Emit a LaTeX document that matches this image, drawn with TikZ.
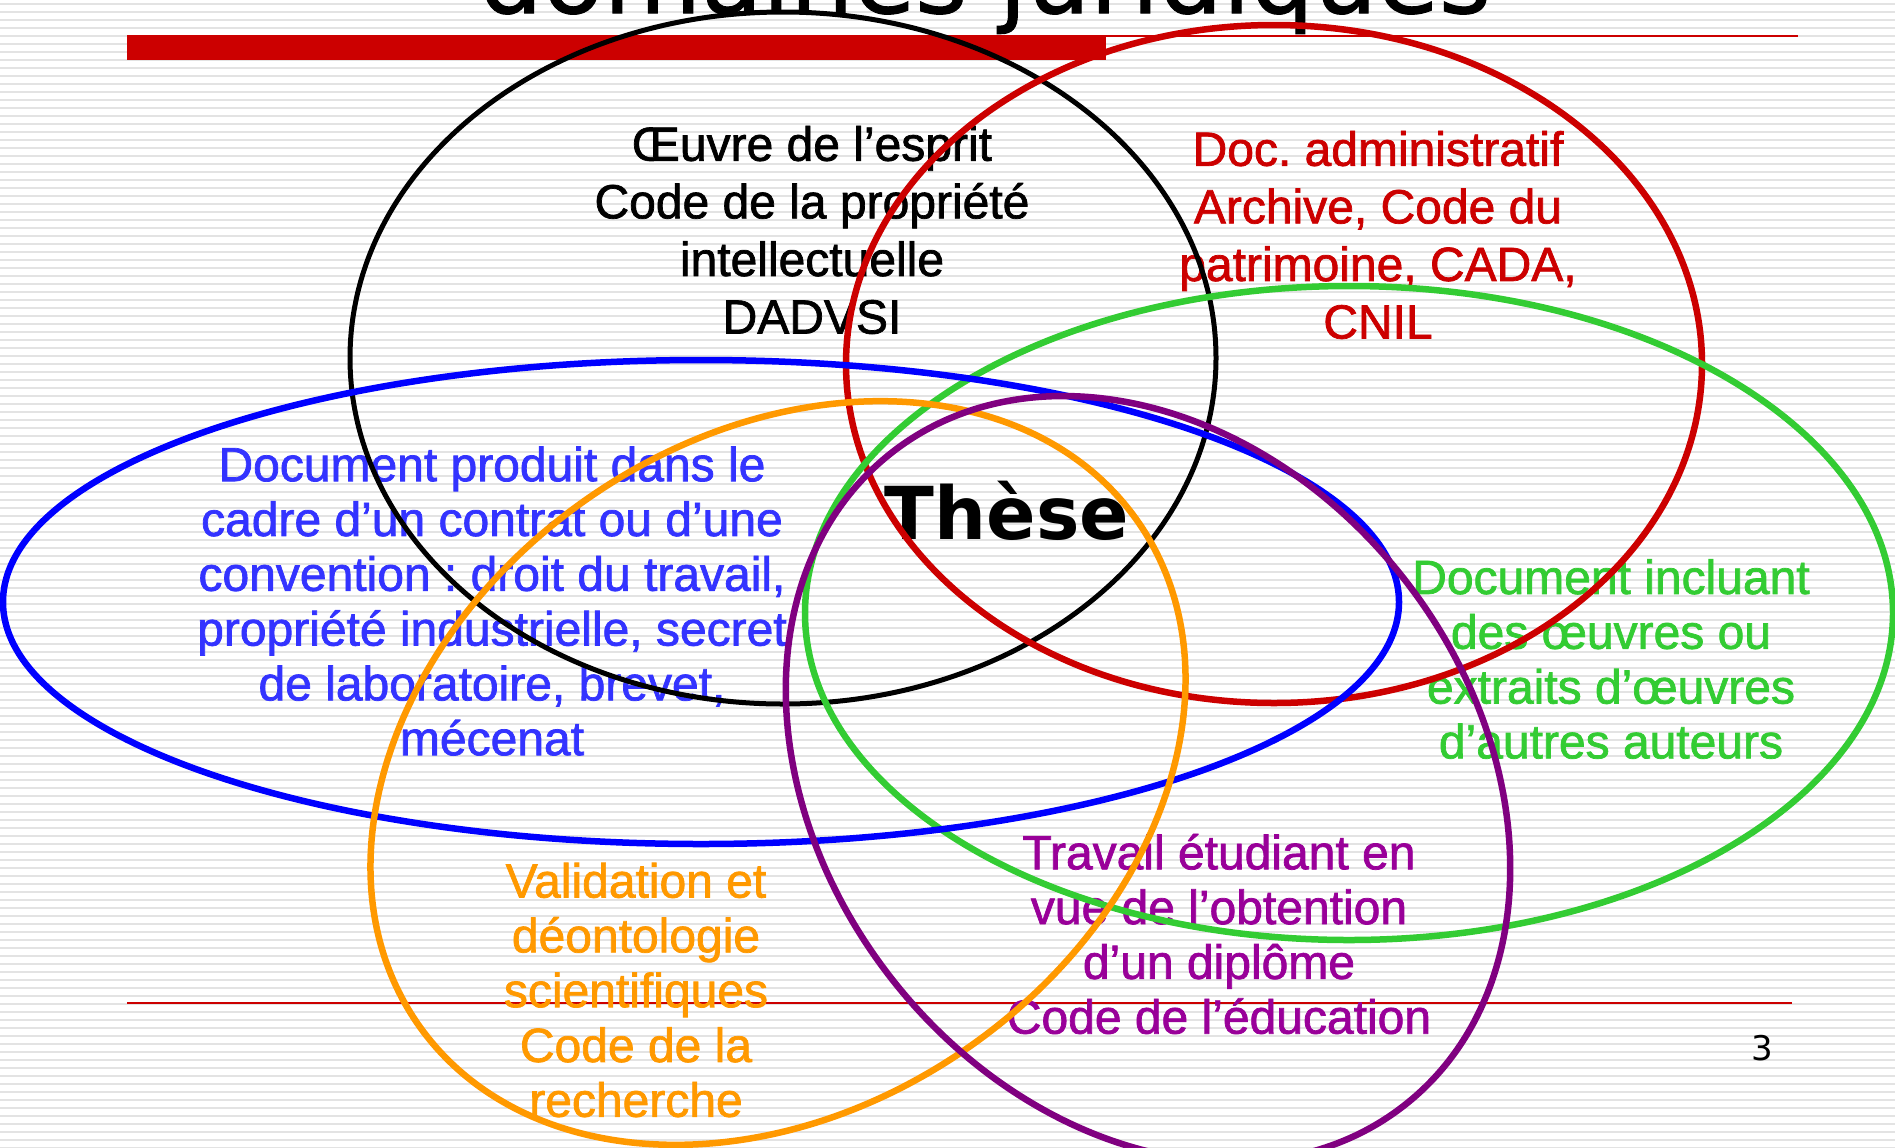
\documentclass[tikz,border=0pt]{standalone}
\usepackage{fontspec}
\setmainfont{Liberation Sans}
\newfontfamily\slidefont{Liberation Sans}[FakeBold=1.5]
\newfontfamily\verdfont{DejaVu Sans}
\newfontfamily\headfont{DejaVu Sans}[FakeBold=1]
\frenchspacing

\definecolor{barred}{HTML}{CC0000}
\definecolor{grnline}{HTML}{33CC33}
\definecolor{bluetext}{HTML}{3333FF}
\definecolor{orng}{HTML}{FF9900}
\definecolor{purpline}{HTML}{800080}
\definecolor{purptext}{HTML}{990099}

\begin{document}
\begin{tikzpicture}[x=0.5pt, y=-0.5pt,
    stripe/.style={draw=black!11, line width=1.25pt},
    ring/.style={line width=3.25pt},
    zone/.style={align=center, inner sep=0pt, font=\slidefont\fontsize{24}{27.4}\selectfont},
    widezone/.style={zone, font=\slidefont\fontsize{24}{28.8}\selectfont}]

\useasboundingbox (0,0) rectangle (1895,1147);
\clip (0,0) rectangle (1895,1147);
\fill[white] (0,0) rectangle (1895,1147);
\foreach \k in {0,...,143}
    \draw[stripe] (0,4+8*\k) -- (1895,4+8*\k);

% slide frame
\node[font=\headfont\fontsize{50}{60}\selectfont, anchor=base] (title) at (985,13) {domaines juridiques};
\fill[barred] (127,35) rectangle (1106,60);
\draw[barred, line width=0.75pt] (1106,36) -- (1798,36);
\draw[barred, line width=0.6pt] (127,1003) -- (1792,1003);
\node[font=\verdfont\fontsize{17}{20}\selectfont] (pagenum) at (1762,1048) {3};

% texts
\node[widezone] (oeuvre) at (812,230)
    {Œuvre de l’esprit\\Code de la propriété\\intellectuelle\\DADVSI};
\node[widezone, text=barred] (admin) at (1378,235)
    {Doc. administratif\\Archive, Code du\\patrimoine, CADA,\\CNIL};
\node[zone, text=bluetext] (contrat) at (492,601)
    {Document produit dans le\\cadre d’un contrat ou d’une\\convention : droit du travail,\\propriété industrielle, secret\\de laboratoire, brevet,\\mécenat};
\node[zone, text=grnline] (citation) at (1611,659)
    {Document incluant\\des œuvres ou\\extraits d’œuvres\\d’autres auteurs};
\node[zone, text=orng] (recherche) at (636,990)
    {Validation et\\déontologie\\scientifiques\\Code de la\\recherche};
\node[zone, text=purptext] (diplome) at (1219,934)
    {Travail étudiant en\\vue de l’obtention\\d’un diplôme\\Code de l’éducation};
\node[font=\verdfont\bfseries\fontsize{36.5}{44}\selectfont, inner sep=0pt] (these) at (1007,511) {Thèse};

% domains
\draw[line width=2.5pt] (783,358) ellipse [x radius=433, y radius=346];
\draw[ring, barred] (1274,364) ellipse [x radius=428, y radius=339];
\draw[ring, grnline] (1349,613) ellipse [x radius=544, y radius=327];
\draw[ring, blue] (701,602) ellipse [x radius=698, y radius=242];
\draw[ring, orng, rotate around={35:(778,773)}] (778,773) ellipse [x radius=439, y radius=334];
\draw[ring, purpline, rotate around={-51.7:(1148,779)}] (1148,779) ellipse [x radius=415, y radius=325];

\end{tikzpicture}
\end{document}
